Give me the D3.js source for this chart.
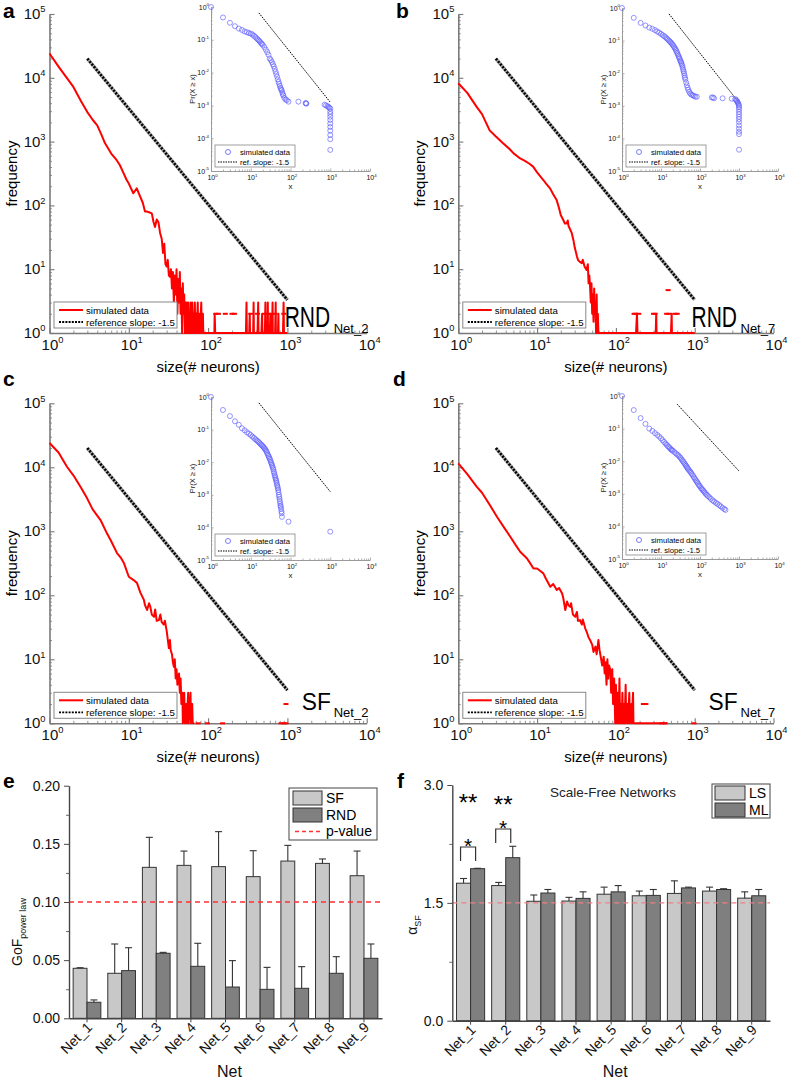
<!DOCTYPE html>
<html><head><meta charset="utf-8">
<script src="https://cdn.jsdelivr.net/npm/d3@7/dist/d3.min.js"></script>
<style>body{margin:0;background:#fff}svg{font-family:"Liberation Sans",Arial,sans-serif}</style>
</head><body>
<script>
// ---------------- DATA ----------------
const xTickExp = ['0','1','2','3','4'];
const yTickExp = ['0','1','2','3','4','5'];
const insetYExp = ['-5','-4','-3','-2','-1','0'];

// main red curves (size, frequency)
const curveA = [[1,24000],[1.3,15000],[1.6,10500],[2,7200],[2.5,4300],[3,2900],[3.5,2200],[4,1800],[4.5,1300],[5,950],[5.5,780],[6,650],[7,515],[7.7,430],[8.5,330],[9.4,250],[10,220],[11.4,155],[12.6,185],[13.5,150],[15,110],[16,80],[17,80],[18,78],[19.5,75],[20.5,55],[21.4,46],[22.5,60],[23.6,55],[24.8,37],[26,30],[27,18],[28,25],[29,12],[30,11],[31,14],[32,8],[33,7.6],[34,10],[35,5],[36,9],[37,3],[38,8],[39,4],[40,10],[41,2],[42,7],[43,3],[44,9],[45,2],[46,5],[47,1],[48,6],[49,2],[50,4],[51,1],[52,3],[53,1],[54,3],[55,1],[56,3],[57,1],[58,2],[59,1],[60,3],[61,1],[62,1],[63,3],[64,1],[65,2],[66,1],[68,3],[69,1],[71,2],[72,1],[74,3],[75,1],[78,2],[79,1],[82,3],[83,1],[86,2],[87,1],[120,1],[121,2],[123,1],[300,1],[305,3],[308,1],[330,1],[335,2],[338,1],[370,1],[375,3],[378,1],[420,1],[428,3],[432,1],[470,1],[480,2],[484,1],[520,1],[528,3],[532,1],[560,1],[566,3],[570,1],[600,1],[610,2],[614,1],[640,1],[650,3],[655,1],[700,1],[712,3],[716,1],[760,1],[770,2],[775,1],[880,1],[895,3],[905,1],[950,1],[1000,1]];
const dotsA = [[62,2],[66,2],[70,2],[125,2],[135,2],[165,2],[200,2],[215,2],[345,2],[420,2],[520,2],[560,2],[620,2],[700,2],[900,2]];

const curveB = [[1,8200],[1.3,5800],[1.71,3500],[2,2700],[2.5,1500],[3,1200],[3.7,940],[4.5,760],[5,660],[6.1,545],[7,500],[8,450],[8.9,405],[10,330],[12,250],[13,220],[14.6,185],[16,150],[17.7,121],[19,90],[20,70],[21.5,59],[22.5,52],[23.7,52],[24.5,58],[25,48],[27.5,37],[29,28],[30,22],[32,16],[33,14],[35,13],[37,12.4],[38,14],[40,11],[42.5,9.7],[44,12],[45,6],[46,8],[47,5.3],[48,3],[49,6],[50,2],[51,4],[52,1.5],[53,5],[54,2],[55,3],[56,1],[57,4],[58,1],[59,2],[60,1],[180,1],[185,2],[188,1],[320,1],[325,2],[328,1],[500,1],[510,2],[514,1],[1000,1]];
const dotsB = [[170,2],[178,2],[195,2],[300,2],[315,2],[440,2],[470,2],[560,2],[600,2],[460,4.7]];

const curveC = [[1,24000],[1.3,17000],[1.66,10200],[2,7500],[2.5,4800],[2.97,3300],[3.5,2200],[4.4,1500],[5.3,930],[6,700],[7.1,455],[8,380],[8.7,316],[10,195],[11.5,173],[12.7,155],[14,110],[15.5,85],[16,70],[17,59],[18,75],[18.7,66],[19.5,50],[20.8,46],[21.5,60],[22.5,40],[24,41],[25,50],[26,38],[27.6,35],[28.5,40],[30,28],[30.7,22.6],[32,15],[33,20],[33.7,14],[35,12],[36,9],[37,7.6],[38,10],[39,5],[40,7],[41,4],[43,6],[44,3],[45,5],[46,2],[47.5,3],[48,1],[50,3],[51,1],[53,2],[54,1],[56,3],[57,1],[60,3],[61,1],[63,2],[64,1],[67,1]];
const dotsC = [[75,1],[98,1],[152,1],[830,1],[900,1],[960,1],[960,2]];

const curveD = [[1,11500],[1.3,7800],[1.71,5000],[2,4000],[2.5,2600],[3.08,1700],[3.8,1150],[4.55,830],[5.3,620],[6.1,480],[7.4,380],[8,330],[9,263],[10,263],[11,240],[12,220],[13,180],[14.7,136],[16,150],[17.8,121],[19,130],[20.8,107],[21.5,90],[22.8,59],[24,80],[25,70],[26.3,66],[27,75],[28.5,50],[30.5,46],[32,55],[33,40],[35,41],[37,35],[38,42],[40.8,30.5],[43,26],[45,22],[47,20],[50,17],[52,13],[55,15.8],[57,12],[60,20],[62,14],[65,10],[67,8],[70,11],[72,6],[74,9],[76,4],[78,10],[80,5],[82,8],[85,6.8],[87,3],[90,7],[92,2],[95,5],[98,1],[100,4],[103,1],[106,3],[108,1],[111,5],[113,1],[116,2],[118,1],[121,3],[123,1],[127,2],[129,1],[133,4],[135,1],[140,2],[142,1],[148,3],[150,1],[157,2],[159,1],[165,3],[167,1],[180,1],[450,1]];
const dotsD = [[223,2],[240,2],[380,1],[420,1],[980,1]];

const refMain = [[3,20000],[1000,3.3]];

// inset CCDF data (x, Pr(X>=x))
const ccdfA = [[1,1],[2,0.48],[3,0.33],[4,0.26],[5,0.22],[6,0.2],[7,0.18],[8,0.17],[9,0.16],[10,0.155],[11,0.145],[12,0.133],[13,0.122],[14,0.112],[15,0.103],[16,0.095],[17,0.088],[18,0.08],[19,0.075],[20,0.07],[22,0.06],[24,0.05],[26,0.042],[28,0.035],[30,0.027],[32,0.024],[34,0.021],[36,0.018],[38,0.0155],[40,0.013],[42,0.0108],[44,0.009],[46,0.0075],[48,0.0062],[50,0.0052],[52,0.0045],[54,0.0039],[56,0.0034],[58,0.0031],[60,0.0029],[62,0.0025],[64,0.0022],[66,0.002],[70,0.0017],[75,0.0015],[81,0.00145],[89,0.0013],[158,0.0013],[240,0.00118],[247,0.00115],[250,0.00113],[720,0.00105],[780,0.001],[850,0.00095],[900,0.0009],[950,0.00085],[1000,0.0008],[1000,0.00065],[1000,0.00055],[1000,0.00045],[1000,0.00036],[1000,0.00028],[1000,0.00022],[1000,0.00017],[1000,0.000125],[1000,0.000093],[1000,0.000044]];
const ccdfB = [[1,1],[2,0.5],[3,0.35],[4,0.29],[5,0.25],[6,0.23],[7,0.21],[8,0.19],[9,0.175],[10,0.16],[11,0.148],[12,0.137],[13,0.127],[14,0.117],[15,0.108],[16,0.1],[17,0.093],[18,0.087],[19,0.08],[20,0.074],[21,0.068],[22,0.062],[23,0.057],[24,0.052],[25,0.047],[26,0.042],[27,0.038],[28,0.034],[29,0.031],[30,0.028],[31,0.025],[32,0.023],[33,0.021],[34,0.019],[35,0.017],[36,0.015],[37,0.013],[38,0.0115],[39,0.01],[40,0.0085],[41,0.0074],[42,0.0065],[44,0.0052],[46,0.0043],[48,0.0036],[50,0.0031],[53,0.0027],[56,0.0024],[60,0.0022],[65,0.0021],[70,0.002],[76,0.0019],[83,0.0019],[200,0.0018],[215,0.0018],[230,0.0017],[380,0.0017],[650,0.00165],[800,0.0016],[850,0.0015],[880,0.0014],[920,0.0013],[950,0.0012],[980,0.0011],[1000,0.001],[1000,0.0009],[1000,0.00078],[1000,0.00065],[1000,0.00055],[1000,0.00046],[1000,0.00039],[1000,0.00032],[1000,0.00025],[1000,0.0002],[1000,0.00016],[1000,0.000135],[1000,0.000045]];
const ccdfC = [[1,1],[2,0.4],[3,0.26],[4,0.18],[5,0.14],[6,0.11],[7,0.095],[8,0.083],[9,0.075],[10,0.068],[11,0.061],[12,0.056],[13,0.051],[14,0.047],[15,0.044],[16,0.041],[17,0.038],[18,0.035],[19,0.033],[20,0.031],[21,0.029],[22,0.027],[23,0.025],[24,0.023],[25,0.021],[26,0.019],[27,0.017],[28,0.0155],[29,0.014],[30,0.0128],[31,0.0115],[32,0.0102],[33,0.0092],[34,0.0083],[35,0.0075],[36,0.0067],[37,0.006],[38,0.0052],[39,0.0046],[40,0.004],[41,0.0036],[42,0.0032],[43,0.0029],[44,0.0026],[45,0.0023],[46,0.002],[47,0.0018],[48,0.0016],[49,0.0014],[50,0.0012],[51,0.001],[52,0.00087],[53,0.00075],[54,0.00064],[55,0.00055],[56,0.00047],[57,0.00043],[58,0.00037],[59,0.00031],[60,0.00027],[61,0.00021],[89,0.00015],[1000,0.000074]];
const ccdfD = [[1,1],[2,0.37],[3,0.21],[4,0.14],[5,0.1],[6,0.085],[7,0.073],[8,0.064],[9,0.057],[10,0.05],[11,0.044],[12,0.039],[13,0.035],[14,0.032],[15,0.029],[16,0.027],[17,0.025],[18,0.023],[19,0.022],[20,0.021],[22,0.019],[24,0.0175],[26,0.016],[28,0.015],[30,0.0135],[32,0.0125],[34,0.0112],[36,0.0102],[38,0.0094],[40,0.0086],[42,0.0078],[44,0.0072],[46,0.0066],[48,0.0061],[50,0.0057],[53,0.0052],[56,0.0048],[59,0.0044],[62,0.004],[66,0.0036],[70,0.0032],[74,0.0029],[78,0.0026],[82,0.0024],[86,0.0022],[90,0.002],[95,0.0018],[100,0.0017],[106,0.0015],[112,0.0014],[118,0.0013],[125,0.0012],[132,0.0011],[140,0.001],[150,0.00093],[160,0.00085],[175,0.00078],[190,0.0007],[210,0.00063],[230,0.00058],[255,0.00053],[280,0.00049],[310,0.00045],[340,0.00041],[380,0.00037],[420,0.00034],[450,0.00032]];
const refInsetABC = [[16,0.66],[1000,0.00125]];
const refInsetD = [[26,0.56],[1000,0.005]];

// bar charts
const nets = ['Net_1','Net_2','Net_3','Net_4','Net_5','Net_6','Net_7','Net_8','Net_9'];
const gofSF = [0.043,0.0387,0.1298,0.1315,0.1304,0.1218,0.1352,0.1332,0.1226];
const gofSFerr = [0.0005,0.0252,0.0258,0.0123,0.0301,0.0223,0.0135,0.0038,0.0212];
const gofRND = [0.0138,0.041,0.0559,0.0447,0.0269,0.0249,0.0258,0.0387,0.0516];
const gofRNDerr = [0.002,0.0197,0.0008,0.0198,0.0227,0.0189,0.0186,0.0143,0.0123];
const gofPValue = 0.10;
const alphaLS = [1.75,1.72,1.52,1.523,1.61,1.59,1.62,1.65,1.56];
const alphaLSerr = [0.06,0.04,0.08,0.047,0.09,0.06,0.16,0.05,0.08];
const alphaML = [1.935,2.075,1.625,1.557,1.64,1.595,1.69,1.67,1.59];
const alphaMLerr = [0.005,0.145,0.045,0.083,0.08,0.075,0.01,0.01,0.08];
const alphaRef = 1.5;

// ---------------- DRAWING ----------------
const svg = d3.select('body').append('svg').attr('width',787).attr('height',1080);
const AX = '#7a7a7a';

function decadeMinors(lo, hi){const a=[];for(let e=lo;e<hi;e++)for(let k=2;k<10;k++)a.push(k*Math.pow(10,e));return a;}
function styleAxis(sel,color,w){sel.select('.domain').attr('stroke',color).attr('stroke-width',w);sel.selectAll('.tick line').attr('stroke',color).attr('stroke-width',Math.max(0.8,w*0.7));}
function supLabel(g,x,y,exp,fs,anchor){
  const t=g.append('text').attr('x',x).attr('y',y).attr('font-size',fs).attr('text-anchor',anchor).attr('fill','#111');
  t.append('tspan').text('10');
  t.append('tspan').attr('dy',-0.45*fs).attr('font-size',0.62*fs).text(exp);
}

function mainPanel(P){
  const x=d3.scaleLog().domain([1,1e4]).range([P.x0,P.x1]);
  const y=d3.scaleLog().domain([1,1e5]).range([P.y1,P.y0]);
  const g=svg.append('g');
  const xMaj=[1,10,100,1000,10000], yMaj=[1,10,100,1000,1e4,1e5];
  let a=g.append('g').attr('transform',`translate(0,${P.y1})`).call(d3.axisBottom(x).tickValues(xMaj).tickSize(-5).tickSizeOuter(0).tickFormat(''));styleAxis(a,AX,1.6);
  a=g.append('g').attr('transform',`translate(0,${P.y1})`).call(d3.axisBottom(x).tickValues(decadeMinors(0,4)).tickSize(-2.5).tickSizeOuter(0).tickFormat(''));a.select('.domain').remove();styleAxis(a,AX,1);
  a=g.append('g').attr('transform',`translate(${P.x0},0)`).call(d3.axisLeft(y).tickValues(yMaj).tickSize(-5).tickSizeOuter(0).tickFormat(''));styleAxis(a,AX,1.6);
  a=g.append('g').attr('transform',`translate(${P.x0},0)`).call(d3.axisLeft(y).tickValues(decadeMinors(0,5)).tickSize(-2.5).tickSizeOuter(0).tickFormat(''));a.select('.domain').remove();styleAxis(a,AX,1);
  xMaj.forEach((v,i)=>supLabel(g,x(v)+3,P.y1+16.5,xTickExp[i],15,'middle'));
  yMaj.forEach((v,i)=>supLabel(g,P.x0-4,y(v)+5,yTickExp[i],15,'end'));
  g.append('text').attr('transform',`translate(${P.x0-33},${(P.y0+P.y1)/2}) rotate(-90)`).attr('text-anchor','middle').attr('font-size',15).text('frequency');
  g.append('text').attr('x',(P.x0+P.x1)/2).attr('y',P.y1+39).attr('text-anchor','middle').attr('font-size',15).text('size(# neurons)');
  const line=d3.line().x(d=>x(d[0])).y(d=>y(d[1]));
  g.append('path').attr('d',line(refMain)).attr('stroke','#aaa').attr('stroke-width',3.6).attr('fill','none');
  g.append('path').attr('d',line(refMain)).attr('stroke','#000').attr('stroke-width',2.6).attr('stroke-dasharray','2,1.4').attr('fill','none');
  g.append('path').attr('d',line(P.curve)).attr('stroke','#ff0000').attr('stroke-width',2).attr('fill','none').attr('stroke-linejoin','round');
  g.selectAll(null).data(P.dots).join('line').attr('x1',d=>x(d[0])-2.5).attr('x2',d=>x(d[0])+2.5).attr('y1',d=>y(d[1])).attr('y2',d=>y(d[1])).attr('stroke','#ff0000').attr('stroke-width',2);
  const lx=P.x0+4.5, ly=P.y1-31;
  g.append('rect').attr('x',lx).attr('y',ly).attr('width',123).attr('height',26).attr('fill','#fff').attr('stroke','#888').attr('stroke-width',1);
  g.append('line').attr('x1',lx+5).attr('x2',lx+29).attr('y1',ly+8).attr('y2',ly+8).attr('stroke','#ff0000').attr('stroke-width',2);
  g.append('line').attr('x1',lx+5).attr('x2',lx+29).attr('y1',ly+20).attr('y2',ly+20).attr('stroke','#000').attr('stroke-width',1.8).attr('stroke-dasharray','2,1.2');
  g.append('text').attr('x',lx+32).attr('y',ly+11.5).attr('font-size',9.7).text('simulated data');
  g.append('text').attr('x',lx+32).attr('y',ly+23.5).attr('font-size',9.7).text('reference slope: -1.5');
  if(P.tag==='RND'){
    g.append('text').attr('transform',`translate(${P.x1-82},${P.y1-6}) scale(0.7,1)`).attr('font-size',30).text(P.tag);
    g.append('text').attr('x',P.x1-33).attr('y',P.y1-0.5).attr('font-size',13).text(P.sub);
  } else {
    g.append('text').attr('transform',`translate(${P.x1-65},${P.y1-13}) scale(0.99,1)`).attr('font-size',23).text(P.tag);
    g.append('text').attr('x',P.x1-33).attr('y',P.y1-6).attr('font-size',13).text(P.sub);
  }
  g.append('text').attr('x',P.lx).attr('y',P.ly).attr('font-size',21).attr('font-weight','bold').text(P.letter);
  insetPanel(P.inset);
}

function insetPanel(I){
  const x=d3.scaleLog().domain([1,1e4]).range([I.x0,I.x1]);
  const y=d3.scaleLog().domain([1e-5,1]).range([I.y1,I.y0]);
  const g=svg.append('g');
  const xMaj=[1,10,100,1000,10000], yMaj=[1e-5,1e-4,1e-3,1e-2,1e-1,1];
  const IC='#9a9a9a';
  let a=g.append('g').attr('transform',`translate(0,${I.y1})`).call(d3.axisBottom(x).tickValues(xMaj).tickSize(-2.5).tickSizeOuter(0).tickFormat(''));styleAxis(a,IC,1);
  a=g.append('g').attr('transform',`translate(0,${I.y1})`).call(d3.axisBottom(x).tickValues(decadeMinors(0,4)).tickSize(-1.5).tickSizeOuter(0).tickFormat(''));a.select('.domain').remove();styleAxis(a,IC,0.8);
  a=g.append('g').attr('transform',`translate(${I.x0},0)`).call(d3.axisLeft(y).tickValues(yMaj).tickSize(-2.5).tickSizeOuter(0).tickFormat(''));styleAxis(a,IC,1);
  a=g.append('g').attr('transform',`translate(${I.x0},0)`).call(d3.axisLeft(y).tickValues(decadeMinors(-5,0)).tickSize(-1.5).tickSizeOuter(0).tickFormat(''));a.select('.domain').remove();styleAxis(a,IC,0.8);
  xMaj.forEach((v,i)=>supLabel(g,x(v)+1.5,I.y1+9,xTickExp[i],7,'middle'));
  yMaj.forEach((v,i)=>supLabel(g,I.x0-2,y(v)+2.5,insetYExp[i],7,'end'));
  g.append('text').attr('x',(I.x0+I.x1)/2).attr('y',I.y1+18).attr('text-anchor','middle').attr('font-size',8).attr('fill','#222').text('x');
  g.append('text').attr('transform',`translate(${I.x0-16},${(I.y0+I.y1)/2}) rotate(-90)`).attr('text-anchor','middle').attr('font-size',7.5).attr('fill','#222').text('Pr(X \u2265 x)');
  const line=d3.line().x(d=>x(d[0])).y(d=>y(d[1]));
  g.append('path').attr('d',line(I.ref)).attr('stroke','#000').attr('stroke-width',1).attr('stroke-dasharray','1.5,1').attr('fill','none');
  g.selectAll(null).data(I.data).join('circle').attr('cx',d=>x(d[0])).attr('cy',d=>y(d[1])).attr('r',2.5).attr('fill','none').attr('stroke','#5a5aff').attr('stroke-opacity',0.8).attr('stroke-width',0.8);
  const lx=I.x0+4, ly=I.y1-26;
  g.append('rect').attr('x',lx).attr('y',ly).attr('width',80).attr('height',22).attr('fill','#fff').attr('stroke','#888').attr('stroke-width',0.8);
  g.append('circle').attr('cx',lx+13).attr('cy',ly+7).attr('r',2.5).attr('fill','none').attr('stroke','#5a5aff').attr('stroke-width',0.8);
  g.append('line').attr('x1',lx+3).attr('x2',lx+23).attr('y1',ly+17).attr('y2',ly+17).attr('stroke','#000').attr('stroke-width',1).attr('stroke-dasharray','1.5,1');
  g.append('text').attr('x',lx+25).attr('y',ly+9.5).attr('font-size',7.7).text('simulated data');
  g.append('text').attr('x',lx+25).attr('y',ly+19.5).attr('font-size',7.7).text('ref. slope: -1.5');
}

mainPanel({x0:49.5,x1:366.7,y0:14,y1:333,curve:curveA,dots:dotsA,tag:'RND',sub:'Net_2',letter:'a',lx:3,ly:18,
  inset:{x0:211,x1:370,y0:7,y1:171,data:ccdfA,ref:refInsetABC}});
mainPanel({x0:458.3,x1:773.5,y0:14,y1:333,curve:curveB,dots:dotsB,tag:'RND',sub:'Net_7',letter:'b',lx:396,ly:18,
  inset:{x0:622,x1:778,y0:8,y1:171,data:ccdfB,ref:refInsetABC}});
mainPanel({x0:49.5,x1:366.7,y0:403.3,y1:723.3,curve:curveC,dots:dotsC,tag:'SF',sub:'Net_2',letter:'c',lx:3,ly:386,
  inset:{x0:211,x1:370,y0:397,y1:560,data:ccdfC,ref:refInsetABC}});
mainPanel({x0:458.3,x1:773.5,y0:403.3,y1:723.3,curve:curveD,dots:dotsD,tag:'SF',sub:'Net_7',letter:'d',lx:393,ly:386,
  inset:{x0:622,x1:778,y0:396,y1:559,data:ccdfD,ref:refInsetD}});

function barPanel(B){
  const x=d3.scaleBand().domain(nets).range([B.x0,B.x1]).paddingInner(0.2).paddingOuter(0.12);
  const xi=d3.scaleBand().domain([0,1]).range([0,x.bandwidth()]);
  const y=d3.scaleLinear().domain([0,B.ymax]).range([B.y1,B.y0]);
  const g=svg.append('g');
  B.series.forEach((s,si)=>{
    g.selectAll(null).data(s.vals).join('rect')
      .attr('x',(d,i)=>x(nets[i])+xi(si)).attr('y',d=>y(d)).attr('width',xi.bandwidth()).attr('height',d=>B.y1-y(d))
      .attr('fill',s.color).attr('stroke','#333').attr('stroke-width',1);
    s.vals.forEach((v,i)=>{
      const cx=x(nets[i])+xi(si)+xi.bandwidth()/2, top=y(v+s.err[i]);
      g.append('line').attr('x1',cx).attr('x2',cx).attr('y1',y(v)).attr('y2',top).attr('stroke','#333').attr('stroke-width',1.1);
      g.append('line').attr('x1',cx-3.5).attr('x2',cx+3.5).attr('y1',top).attr('y2',top).attr('stroke','#333').attr('stroke-width',1.1);
    });
  });
  g.append('line').attr('x1',B.x0).attr('x2',B.x1).attr('y1',y(B.ref)).attr('y2',y(B.ref)).attr('stroke',B.refColor).attr('stroke-width',1.3).attr('stroke-dasharray','5,4');
  let a=g.append('g').attr('transform',`translate(${B.x0},0)`).call(d3.axisLeft(y).tickValues(B.yticks).tickSize(5).tickSizeOuter(0).tickFormat(d3.format(B.fmt)));
  styleAxis(a,'#444',1.4); a.selectAll('text').attr('font-size',14).attr('fill','#111').attr('font-family','"Liberation Sans",Arial,sans-serif').attr('dx',-1);
  a=g.append('g').attr('transform',`translate(${B.x0},0)`).call(d3.axisLeft(y).tickValues(B.yminor).tickSize(3).tickSizeOuter(0).tickFormat(''));a.select('.domain').remove();styleAxis(a,'#444',1);
  a=g.append('g').attr('transform',`translate(0,${B.y1})`).call(d3.axisBottom(x).tickSize(4).tickSizeOuter(0).tickFormat(''));styleAxis(a,'#444',1.4);
  nets.forEach(n=>{
    const cx=x(n)+x.bandwidth()/2;
    g.append('text').attr('transform',`translate(${cx+6},${B.y1+10}) rotate(-45)`).attr('text-anchor','end').attr('font-size',14).attr('fill','#111').text(n);
  });
  g.append('text').attr('x',(B.x0+B.x1)/2+4).attr('y',1077).attr('text-anchor','middle').attr('font-size',16).attr('fill','#111').text('Net');
  g.append('text').attr('x',B.lx).attr('y',B.ly).attr('font-size',21).attr('font-weight','bold').text(B.letter);
  return {g,x,xi,y};
}

const pe=barPanel({x0:69,x1:382,y0:785.7,y1:1018.3,ymax:0.2,yticks:[0,0.05,0.1,0.15,0.2],yminor:[0.025,0.075,0.125,0.175],fmt:'.2f',
  series:[{vals:gofSF,err:gofSFerr,color:'#c8c8c8'},{vals:gofRND,err:gofRNDerr,color:'#808080'}],ref:gofPValue,refColor:'#ff3030',letter:'e',lx:3,ly:788});
{
  const g=pe.g;
  g.append('rect').attr('x',289).attr('y',788).attr('width',88).attr('height',52).attr('fill','#fff').attr('stroke','#444').attr('stroke-width',1);
  g.append('rect').attr('x',293).attr('y',791).attr('width',29).attr('height',14).attr('fill','#c8c8c8').attr('stroke','#333');
  g.append('rect').attr('x',293).attr('y',808).attr('width',29).attr('height',14).attr('fill','#808080').attr('stroke','#333');
  g.append('line').attr('x1',295).attr('x2',320).attr('y1',831.5).attr('y2',831.5).attr('stroke','#ff3030').attr('stroke-width',1.3).attr('stroke-dasharray','4,3');
  g.append('text').attr('x',326).attr('y',803).attr('font-size',14).text('SF');
  g.append('text').attr('x',326).attr('y',820).attr('font-size',14).text('RND');
  g.append('text').attr('x',326).attr('y',836).attr('font-size',14).text('p-value');
  const t=g.append('text').attr('transform','translate(22,932) rotate(-90)').attr('text-anchor','middle').attr('font-size',14).attr('fill','#111');
  t.append('tspan').text('GoF'); t.append('tspan').attr('dy',4).attr('font-size',9).text('power law');
}
const pf=barPanel({x0:452.3,x1:770,y0:785,y1:1020.7,ymax:3.0,yticks:[0,1.5,3.0],yminor:[0.75,2.25],fmt:'.1f',
  series:[{vals:alphaLS,err:alphaLSerr,color:'#c8c8c8'},{vals:alphaML,err:alphaMLerr,color:'#7f7f7f'}],ref:alphaRef,refColor:'#f08080',letter:'f',lx:397,ly:788});
{
  const g=pf.g;
  g.append('rect').attr('x',712).attr('y',784).attr('width',58).attr('height',34).attr('fill','#fff').attr('stroke','#444').attr('stroke-width',1);
  g.append('rect').attr('x',715).attr('y',786).attr('width',30).attr('height',14).attr('fill','#c8c8c8').attr('stroke','#333');
  g.append('rect').attr('x',715).attr('y',803).attr('width',30).attr('height',14).attr('fill','#7f7f7f').attr('stroke','#333');
  g.append('text').attr('x',749).attr('y',798).attr('font-size',14).text('LS');
  g.append('text').attr('x',749).attr('y',815).attr('font-size',14).text('ML');
  g.append('text').attr('x',613).attr('y',797).attr('text-anchor','middle').attr('font-size',13.5).attr('fill','#222').text('Scale-Free Networks');
  const t=g.append('text').attr('transform','translate(417,925) rotate(-90)').attr('text-anchor','middle').attr('font-size',14).attr('fill','#111');
  t.append('tspan').text('\u03b1'); t.append('tspan').attr('dy',4).attr('font-size',9).text('SF');
  const {x,xi,y}=pf;
  [0,1].forEach(i=>{
    const c0=x(nets[i])+xi(0)+xi.bandwidth()/2-3, c1=x(nets[i])+xi(1)+xi.bandwidth()/2-2;
    const top = i===0?847:829, bot = i===0?861:843;
    g.append('path').attr('d',`M${c0},${bot}V${top}H${c1}V${bot}`).attr('fill','none').attr('stroke','#333').attr('stroke-width',1.2);
    g.append('text').attr('x',(c0+c1)/2).attr('y',top+6).attr('text-anchor','middle').attr('font-size',21).text('*');
    g.append('text').attr('x',(c0+c1)/2).attr('y',i===0?811:812.5).attr('text-anchor','middle').attr('font-size',24).text('**');
  });
}
</script>
</body></html>
